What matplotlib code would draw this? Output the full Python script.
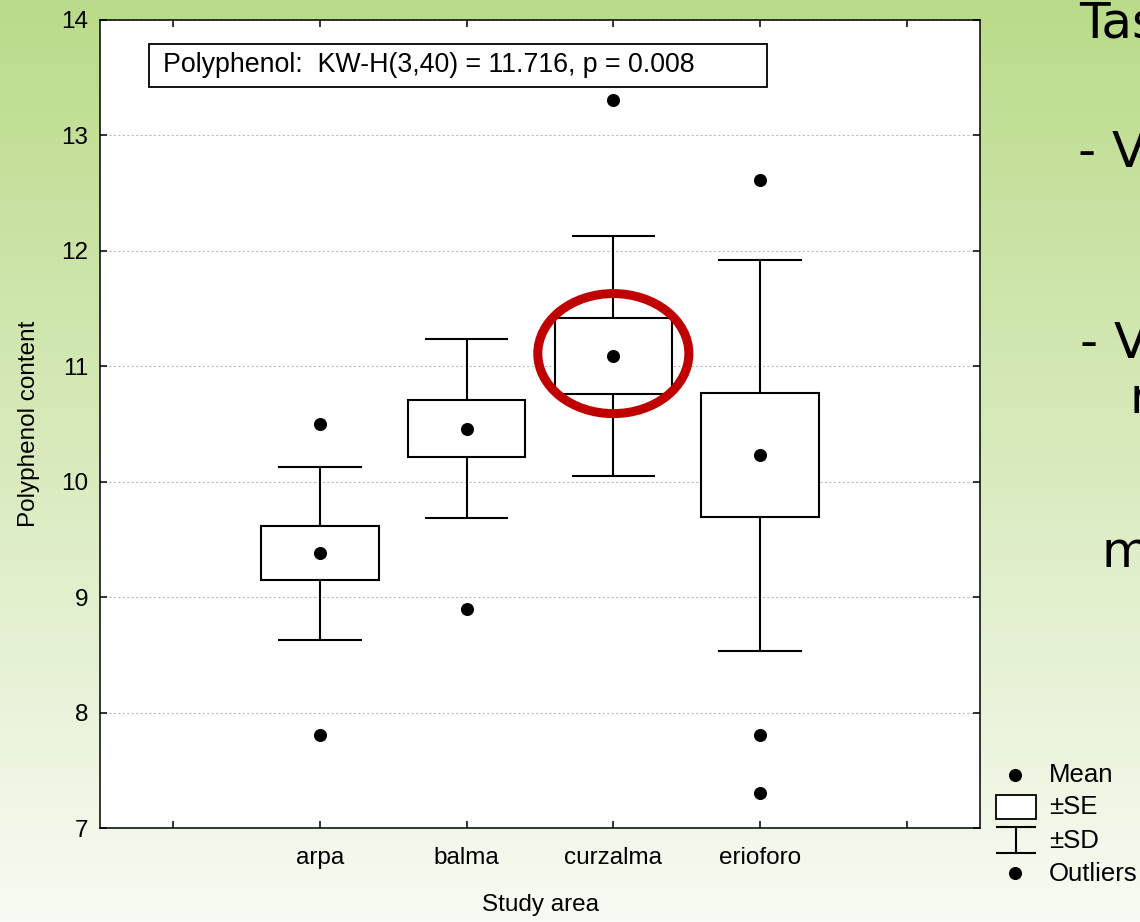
import numpy as np
import matplotlib.pyplot as plt
from matplotlib.patches import Ellipse, Rectangle

# values
areas = ["arpa", "balma", "curzalma", "erioforo"]
means = [9.38, 10.46, 11.09, 10.23]
se = [0.235, 0.245, 0.33, 0.535]
sd = [0.75, 0.775, 1.04, 1.695]
outliers = [[10.50, 7.81], [8.90], [13.31], [12.61, 7.81, 7.30]]
y_ticks = [7, 8, 9, 10, 11, 12, 13, 14]
stat_text = "Polyphenol:  KW-H(3,40) = 11.716, p = 0.008"

W, H = 1140, 922
plt.rcParams['font.family'] = ['Liberation Sans', 'DejaVu Sans']
fig = plt.figure(figsize=(W / 100, H / 100), dpi=100)

# green slide background, fading to white at the bottom
bg = fig.add_axes([0, 0, 1, 1], zorder=-5)
top = np.array([186, 219, 137]) / 255
bot = np.array([248, 251, 243]) / 255
t = np.linspace(0, 1, 256)[:, None]
grad = top + (bot - top) * t
bg.imshow(grad[:, None, :], aspect='auto', extent=[0, 1, 0, 1])
bg.axis('off')

# main plot
ax = fig.add_axes([100 / W, 1 - 828 / H, 880 / W, 808 / H])
ax.set_facecolor('white')
pos = np.arange(1, len(areas) + 1)
for xi, m, s, d, outs in zip(pos, means, se, sd, outliers):
    ax.vlines(xi, m - d, m + d, color='k', lw=1.5, zorder=2)
    ax.hlines([m - d, m + d], xi - 0.285, xi + 0.285, color='k', lw=1.5, zorder=2)
    ax.add_patch(Rectangle((xi - 0.4, m - s), 0.8, 2 * s, fc='white', ec='k', lw=1.5, zorder=3))
    ax.plot(xi, m, 'o', color='k', ms=8.4, zorder=4)
    ax.plot([xi] * len(outs), outs, 'o', color='k', ms=8.4, zorder=4)

ax.set_xlim(-0.5, 5.5)
ax.set_ylim(7, 14)
ax.set_xticks(range(len(areas) + 2))
ax.set_xticklabels([''] + areas + [''])
ax.set_yticks(y_ticks)
ax.tick_params(direction='in', top=True, right=True, length=5, width=1.1, labelsize=17.5)
ax.tick_params(axis='x', pad=14)
ax.tick_params(axis='y', pad=8.5)
for sp in ax.spines.values():
    sp.set_linewidth(1.1)
ax.set_axisbelow(True)
ax.yaxis.grid(True, linestyle=(0, (2, 2)), color='#bdbdbd', lw=0.8)

ax.set_xlabel("Study area", fontsize=17.5)
ax.xaxis.set_label_coords(0.5, -0.082)
ax.set_ylabel("Polyphenol content", fontsize=17.5)
ax.yaxis.set_label_coords(-0.068, 0.5)

# statistics box
ax.add_patch(Rectangle((0.0557, 0.917), 0.7023, 0.053, transform=ax.transAxes,
                       fc='white', ec='k', lw=1.3, zorder=5))
ax.text(0.0716, 0.9437, stat_text, transform=ax.transAxes, va='center', ha='left',
        fontsize=19.3, zorder=6)

# red highlight around curzalma
ax.add_patch(Ellipse((3, 11.11), 1.03, 1.04, fill=False, ec='#c00000', lw=6.5,
                     zorder=6, clip_on=False))

# legend drawn in pixel units
lg = fig.add_axes([990 / W, 1 - 895 / H, 150 / W, 140 / H])
lg.set_xlim(990, 1140)
lg.set_ylim(895, 755)
lg.axis('off')
lg.plot(1015, 775, 'o', color='k', ms=8.4)
lg.add_patch(Rectangle((996, 795), 40, 24, fc='white', ec='k', lw=1.3))
lg.hlines([827, 853], 996, 1036, color='k', lw=1.5)
lg.vlines(1016, 827, 853, color='k', lw=1.5)
lg.plot(1015, 873, 'o', color='k', ms=8.4)
for yy, lab in zip([775, 807, 841, 874], ["Mean", "\u00b1SE", "\u00b1SD", "Outliers"]):
    lg.text(1049, yy, lab, va='center', ha='left', fontsize=18.5, clip_on=False)

# slide text cut off at the right edge
slide = dict(fontsize=36, family='DejaVu Sans', va='baseline', ha='left', color='k')
fig.text(1079 / W, 1 - 38 / H, "Tas", **slide)
fig.text(1078 / W, 1 - 167 / H, "- V", **slide)
fig.text(1080 / W, 1 - 358 / H, "- V", **slide)
fig.text(1130 / W, 1 - 413 / H, "r", **slide)
fig.text(1102 / W, 1 - 567 / H, "m", **slide)

fig.savefig("out.png", dpi=100)
